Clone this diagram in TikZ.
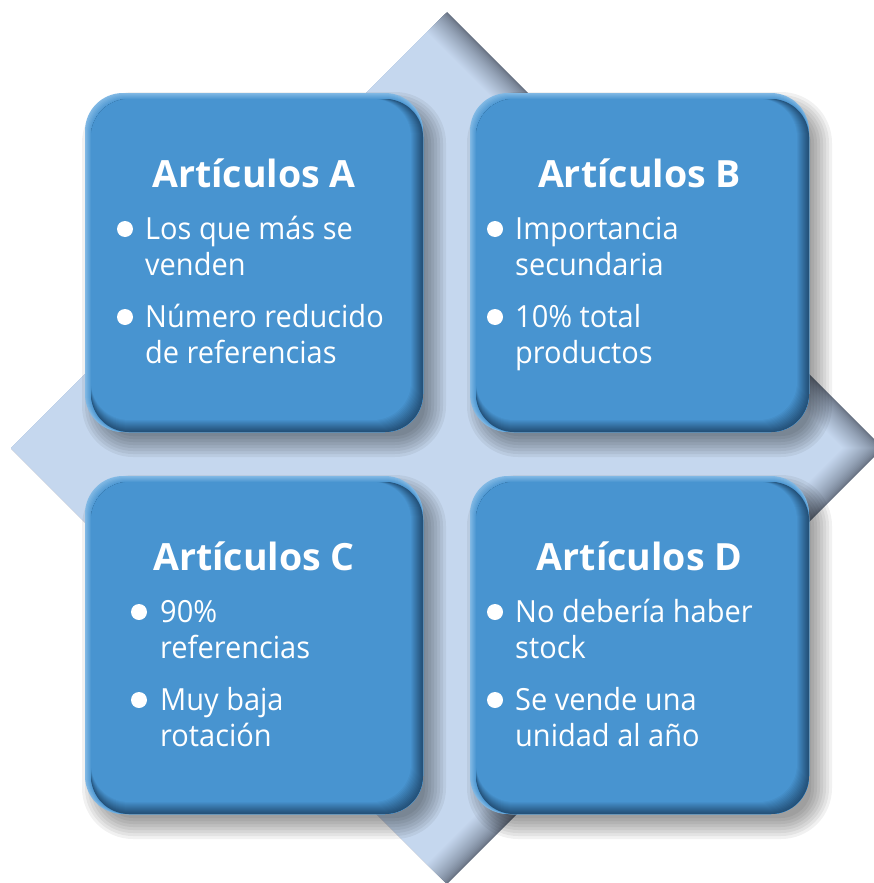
\documentclass[tikz,border=0pt]{standalone}
\usepackage{fontspec}
\setmainfont{Open Sans}[FakeStretch=0.95]
\newfontfamily\titlefont{Open Sans}
\usetikzlibrary{calc}
\definecolor{boxmain}{HTML}{4894D0}
\definecolor{boxdark}{HTML}{24527A}
\definecolor{boxlight}{HTML}{80B8E4}
\definecolor{diamlight}{HTML}{C5D7EE}
\definecolor{diamdark}{HTML}{687384}
\tikzset{
  boxnode/.style={rectangle, inner sep=0pt, outer sep=0pt},
  titletext/.style={text=white, font=\titlefont\fontsize{37.5}{42}\selectfont\bfseries, inner sep=0pt, anchor=base},
  itemtext/.style={text=white, font=\fontsize{30.5}{36}\selectfont, inner sep=0pt, anchor=base west},
  bul/.style={circle, fill=white, minimum size=16pt, inner sep=0pt},
}
\newcommand\bevelbox[1]{%
  \foreach \e [evaluate=\e as \r using {max(38+\e,2)}] in {13,10,...,-8}
    \fill[black, opacity=0.055, rounded corners=\r pt]
      ($(#1.north west)+(10-\e,12-\e)$) rectangle ($(#1.south east)+(10+\e,12+\e)$);
  \fill[boxlight, rounded corners=38pt] (#1.north west) rectangle (#1.south east);
  \foreach \k [evaluate=\k as \p using 100*\k/6] in {1,...,6}
    \fill[boxmain!\p!boxlight, rounded corners=38pt]
      ($(#1.north west)+(\k,\k)$) rectangle (#1.south east);
  \foreach \k [evaluate=\k as \p using 100*(\k/12)^1.1] in {0,...,12}
    \fill[boxmain!\p!boxdark, rounded corners=38pt]
      ($(#1.north west)+(6,6)$) rectangle ($(#1.south east)+(-\k,-\k)$);
}
\begin{document}
\begin{tikzpicture}[x=1pt,y=-1pt]
\useasboundingbox (0,0) rectangle (874,883);
\fill[white] (0,0) rectangle (874,883);
% diamond
\coordinate (dc) at (447,448);
\def\hh{436}
\fill[diamdark] ($(dc)+(0,-\hh)$) -- ($(dc)+(\hh,0)$) -- ($(dc)+(0,\hh)$) -- ($(dc)+(-\hh,0)$) -- cycle;
\foreach \s [evaluate=\s as \p using {100*(\s/40)^0.7}] in {2,4,...,40}
  \fill[diamlight!\p!diamdark]
    ($(dc)+(-\s/2,-\hh+\s/2)$) -- ($(dc)+(\hh-\s,0)$) -- ($(dc)+(-\s/2,\hh-\s/2)$) -- ($(dc)+(-\hh,0)$) -- cycle;
% boxes
\node[boxnode, minimum width=338pt, minimum height=339pt] (boxA) at (254,262.5) {};
\node[boxnode, minimum width=339pt, minimum height=339pt] (boxB) at (639.5,262.5) {};
\node[boxnode, minimum width=338pt, minimum height=338pt] (boxC) at (254,645) {};
\node[boxnode, minimum width=339pt, minimum height=338pt] (boxD) at (639.5,645) {};
\bevelbox{boxA}
\bevelbox{boxB}
\bevelbox{boxC}
\bevelbox{boxD}
% box A
\node[titletext] (tA) at ($(boxA.north)+(0,94)$) {Artículos A};
\node[bul] (bA1) at ($(boxA.north west)+(40,136)$) {};
\node[itemtext] (lA1) at ($(boxA.north west)+(60,146)$) {Los que más se};
\node[itemtext] (lA2) at ($(boxA.north west)+(60,182)$) {venden};
\node[bul] (bA2) at ($(boxA.north west)+(40,224)$) {};
\node[itemtext] (lA3) at ($(boxA.north west)+(60,234)$) {Número reducido};
\node[itemtext] (lA4) at ($(boxA.north west)+(60,270)$) {de referencias};
% box B
\node[titletext] (tB) at ($(boxB.north)+(0,94)$) {Artículos B};
\node[bul] (bB1) at ($(boxB.north west)+(25,136)$) {};
\node[itemtext] (lB1) at ($(boxB.north west)+(45,146)$) {Importancia};
\node[itemtext] (lB2) at ($(boxB.north west)+(45,182)$) {secundaria};
\node[bul] (bB2) at ($(boxB.north west)+(25,224)$) {};
\node[itemtext] (lB3) at ($(boxB.north west)+(45,234)$) {10\% total};
\node[itemtext] (lB4) at ($(boxB.north west)+(45,270)$) {productos};
% box C
\node[titletext] (tC) at ($(boxC.north)+(0,94)$) {Artículos C};
\node[bul] (bC1) at ($(boxC.north west)+(54,136)$) {};
\node[itemtext] (lC1) at ($(boxC.north west)+(75,146)$) {90\%};
\node[itemtext] (lC2) at ($(boxC.north west)+(75,182)$) {referencias};
\node[bul] (bC2) at ($(boxC.north west)+(54,224)$) {};
\node[itemtext] (lC3) at ($(boxC.north west)+(75,234)$) {Muy baja};
\node[itemtext] (lC4) at ($(boxC.north west)+(75,270)$) {rotación};
% box D
\node[titletext] (tD) at ($(boxD.north)+(0,94)$) {Artículos D};
\node[bul] (bD1) at ($(boxD.north west)+(25,136)$) {};
\node[itemtext] (lD1) at ($(boxD.north west)+(45,146)$) {No debería haber};
\node[itemtext] (lD2) at ($(boxD.north west)+(45,182)$) {stock};
\node[bul] (bD2) at ($(boxD.north west)+(25,224)$) {};
\node[itemtext] (lD3) at ($(boxD.north west)+(45,234)$) {Se vende una};
\node[itemtext] (lD4) at ($(boxD.north west)+(45,270)$) {unidad al año};
\end{tikzpicture}
\end{document}
